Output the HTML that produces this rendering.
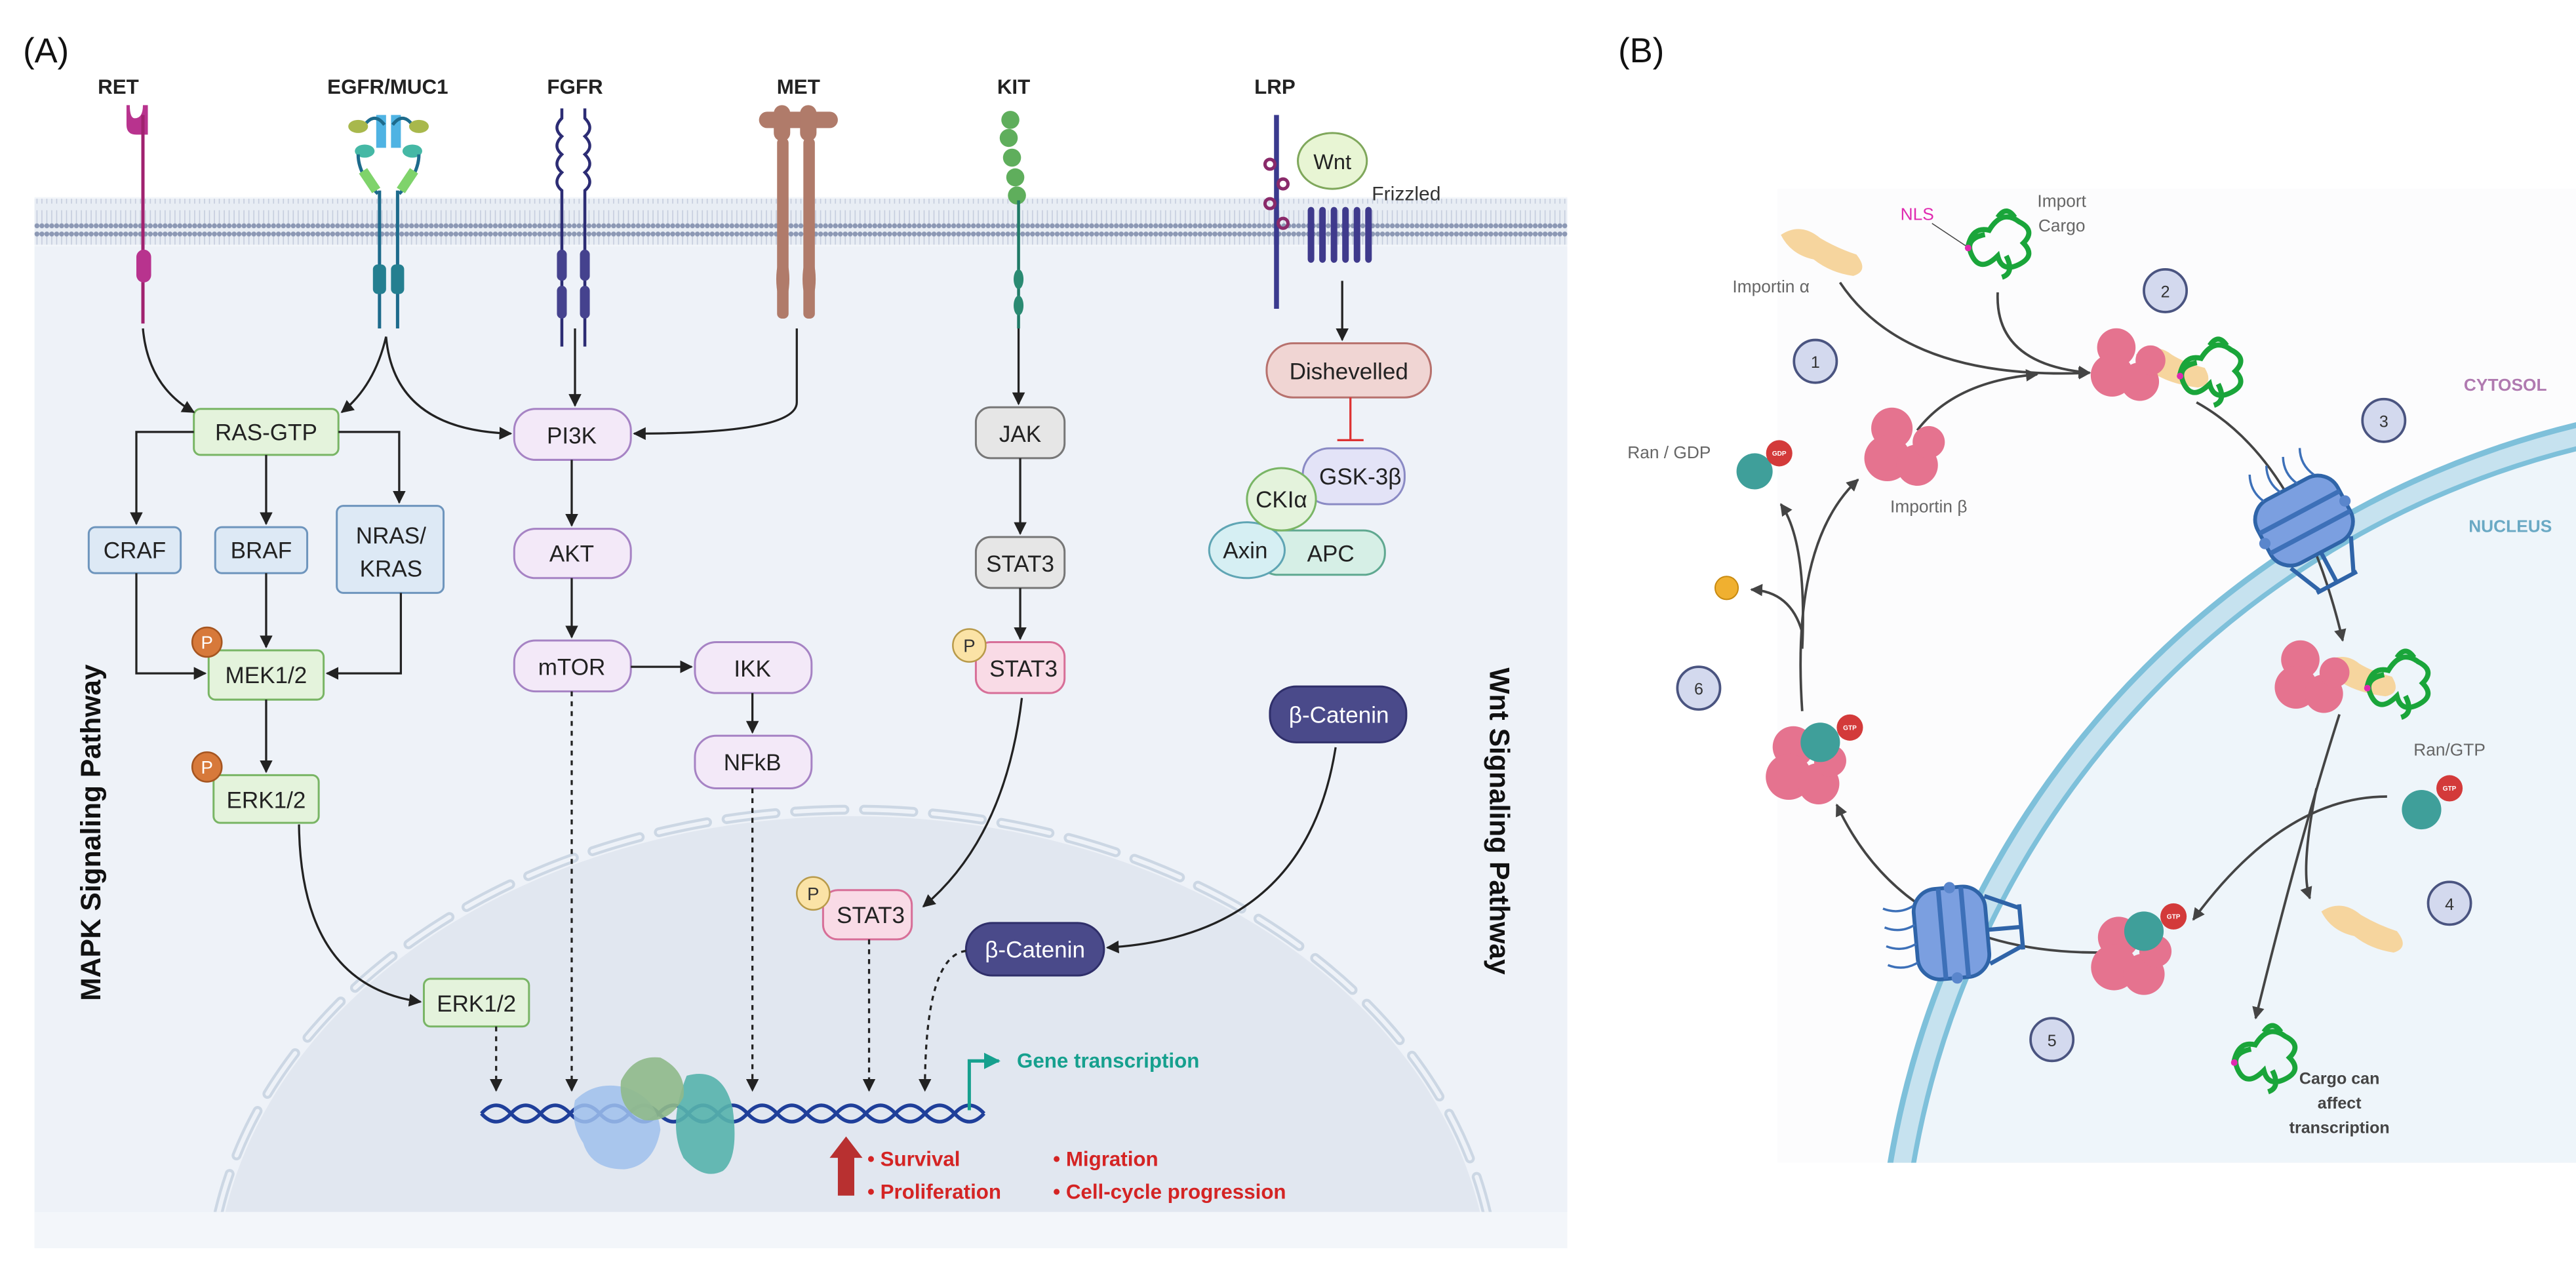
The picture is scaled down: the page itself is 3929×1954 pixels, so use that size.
<!DOCTYPE html>
<html><head><meta charset="utf-8"><style>
html,body{margin:0;padding:0;background:#fff;overflow:hidden;width:3929px;height:1954px;position:relative}
svg{display:block;position:absolute;left:0;top:0}
text{font-family:"Liberation Sans",sans-serif}
</style></head><body>
<svg width="3929" height="1954" viewBox="0 0 1568 780" preserveAspectRatio="none" xmlns="http://www.w3.org/2000/svg" overflow="hidden">
<defs>
<marker id="ar" viewBox="0 0 10 10" refX="9" refY="5" markerWidth="6" markerHeight="6" orient="auto"><path d="M0,0L10,5L0,10z" fill="#222"/></marker>
<marker id="ar2" viewBox="0 0 10 10" refX="9" refY="5" markerWidth="5" markerHeight="5" orient="auto"><path d="M0,0L10,5L0,10z" fill="#444"/></marker>
<marker id="art" viewBox="0 0 10 10" refX="9" refY="5" markerWidth="5" markerHeight="5" orient="auto"><path d="M0,0L10,5L0,10z" fill="#16a08e"/></marker>
<pattern id="lip" width="3" height="28" patternUnits="userSpaceOnUse"><rect width="3" height="28" fill="#e8edf4"/><circle cx="1.5" cy="2.5" r="1.5" fill="#8c98b4"/><circle cx="1.5" cy="25.5" r="1.5" fill="#8c98b4"/><line x1="1.5" y1="4" x2="1.5" y2="12" stroke="#c3cbdc" stroke-width="0.6"/><line x1="1.5" y1="16" x2="1.5" y2="24" stroke="#c3cbdc" stroke-width="0.6"/></pattern>
<clipPath id="cb"><rect x="1082" y="115" width="486" height="593"/></clipPath>
<clipPath id="ca"><rect x="22" y="150" width="932" height="588"/></clipPath>
<g id="pore"><rect x="-24" y="-20" width="48" height="38" rx="12" fill="#7b9fe0" stroke="#2f64a8" stroke-width="2"/><path d="M-24,-6 H24 M-24,6 H24" stroke="#3d70b8" stroke-width="2.5"/><circle cx="-24" cy="0" r="3" fill="#5a86cc"/><circle cx="24" cy="0" r="3" fill="#5a86cc"/><path d="M-18,18 L-10,36 M18,18 L10,36 M0,18 V36 M-12,36 H12" stroke="#2f64a8" stroke-width="2.2" fill="none"/><path d="M-14,-20 q-4,-8 0,-16 M-4,-20 q-4,-8 0,-16 M6,-20 q-4,-8 0,-16 M16,-20 q-4,-8 0,-16" stroke="#3d70b8" stroke-width="1.2" fill="none"/></g>
<g id="pinkb"><circle cx="-6" cy="-8" r="9" fill="#e5738f"/><circle cx="-8" cy="5" r="10" fill="#e5738f"/><circle cx="5" cy="8" r="9" fill="#e5738f"/><circle cx="10" cy="-2" r="7" fill="#e5738f"/></g>
<g id="cargo" fill="none" stroke="#1aa53a" stroke-width="2.4"><path d="M-14,2 q2,-10 10,-8 q6,-10 14,-4 q8,4 2,10 q6,6 -2,10 q-8,4 -10,-4 q-8,8 -12,0 q-4,-8 6,-10 M0,-12 q4,-6 8,0 M4,6 q4,8 -2,10"/></g>
</defs>

<!-- PANEL A -->
<text x="14" y="38" font-size="21" fill="#111">(A)</text>
<rect x="21" y="120" width="933" height="640" fill="#f3f6fa"/>
<rect x="21" y="150" width="933" height="610" fill="#eef2f8"/>
<rect x="21" y="121" width="933" height="28" fill="url(#lip)"/>
<g clip-path="url(#ca)">
<ellipse cx="519" cy="790" rx="388" ry="293" fill="#e1e7f0"/>
<ellipse cx="519" cy="790" rx="392" ry="297" fill="none" stroke="#ccd7e4" stroke-width="6" stroke-dasharray="30 12" stroke-linecap="round"/>
<ellipse cx="519" cy="790" rx="392" ry="297" fill="none" stroke="#eef2f8" stroke-width="2.5" stroke-dasharray="30 12" stroke-linecap="round"/>
</g>
<rect x="21" y="738" width="933" height="22" fill="#f3f6fa"/>

<g font-size="12.5" font-weight="bold" fill="#222" text-anchor="middle">
<text x="72" y="57">RET</text><text x="236" y="57">EGFR/MUC1</text><text x="350" y="57">FGFR</text><text x="486" y="57">MET</text><text x="617" y="57">KIT</text><text x="776" y="57">LRP</text>
</g>
<path d="M77,64 v12 q0,6 6,6 h7 v-18 h-3 q0,8 -5,8 q-3,0 -3,-8z" fill="#b8338e"/>
<line x1="87" y1="70" x2="87" y2="197" stroke="#a0226f" stroke-width="2"/>
<rect x="83" y="152" width="9" height="20" rx="4.5" fill="#b8338e"/>
<rect x="229" y="70" width="6" height="20" fill="#4fb3e3"/><rect x="238" y="70" width="6" height="20" fill="#4fb3e3"/>
<path d="M222,76 q6,-8 12,0 M239,76 q6,-8 12,0" stroke="#1d6b8c" stroke-width="2" fill="none"/>
<ellipse cx="218" cy="77" rx="6" ry="4" fill="#a8b84c"/><ellipse cx="255" cy="77" rx="6" ry="4" fill="#a8b84c"/>
<ellipse cx="222" cy="92" rx="6" ry="4" fill="#45b8a5"/><ellipse cx="251" cy="92" rx="6" ry="4" fill="#45b8a5"/>
<path d="M218,94 q0,12 12,24 M255,94 q0,12 -12,24" stroke="#1d6b8c" stroke-width="2" fill="none"/>
<path d="M221,104 l8,12 M252,104 l-8,12" stroke="#7fd36b" stroke-width="6"/>
<line x1="231" y1="116" x2="231" y2="200" stroke="#1d6b8c" stroke-width="2"/><line x1="242" y1="116" x2="242" y2="200" stroke="#1d6b8c" stroke-width="2"/>
<rect x="227" y="161" width="8" height="18" rx="3" fill="#247f90"/><rect x="238" y="161" width="8" height="18" rx="3" fill="#247f90"/>
<path d="M342,66 v6 q-6,6 0,11 q-6,6 0,11 q-6,6 0,11 q-6,6 0,11 v95 M356,66 v6 q6,6 0,11 q6,6 0,11 q6,6 0,11 q6,6 0,11 v95" stroke="#2c2c74" stroke-width="1.8" fill="none"/>
<rect x="339" y="152" width="6" height="19" rx="3" fill="#45428e"/><rect x="353" y="152" width="6" height="19" rx="3" fill="#45428e"/>
<rect x="339" y="174" width="6" height="20" rx="3" fill="#45428e"/><rect x="353" y="174" width="6" height="20" rx="3" fill="#45428e"/>
<g fill="#b07b6a"><rect x="462" y="68" width="48" height="10" rx="5"/><rect x="471" y="64" width="10" height="22" rx="5"/><rect x="487" y="64" width="10" height="22" rx="5"/>
<rect x="473" y="84" width="7" height="110" rx="3"/><rect x="489" y="84" width="7" height="110" rx="3"/>
<ellipse cx="476.5" cy="170" rx="4" ry="14"/><ellipse cx="492.5" cy="170" rx="4" ry="14"/></g>
<g fill="#5fae5c"><circle cx="615" cy="73" r="5.5"/><circle cx="614" cy="84" r="5.5"/><circle cx="616" cy="96" r="5.5"/><circle cx="618" cy="108" r="5.5"/><circle cx="619" cy="119" r="5.5"/></g>
<line x1="620" y1="122" x2="620" y2="200" stroke="#1f7a66" stroke-width="1.8"/>
<ellipse cx="620" cy="170" rx="3" ry="6" fill="#2a8a72"/><ellipse cx="620" cy="186" rx="3" ry="6" fill="#2a8a72"/>
<line x1="777" y1="70" x2="777" y2="188" stroke="#3a3a8e" stroke-width="3"/>
<g fill="none" stroke="#8a2a6a" stroke-width="2"><circle cx="773" cy="100" r="3"/><circle cx="781" cy="112" r="3"/><circle cx="773" cy="124" r="3"/><circle cx="781" cy="136" r="3"/></g>
<ellipse cx="811" cy="98" rx="21" ry="17" fill="#e8f5d4" stroke="#7fa75b" stroke-width="1.2"/>
<text x="811" y="103" font-size="13" text-anchor="middle" fill="#222">Wnt</text>
<text x="835" y="122" font-size="12" fill="#333">Frizzled</text>
<g fill="none" stroke="#3f3a8c" stroke-width="4" stroke-linecap="round"><path d="M798,128 v30 M805,128 v30 M812,128 v30 M819,128 v30 M826,128 v30 M833,128 v30"/></g>

<g font-size="14" fill="#222" text-anchor="middle" stroke-width="1.2">
<rect x="118" y="249" width="88" height="28" rx="4" fill="#e4f3dc" stroke="#79b565"/><text x="162" y="268">RAS-GTP</text>
<rect x="54" y="321" width="56" height="28" rx="4" fill="#dde9f5" stroke="#6e95bd"/><text x="82" y="340">CRAF</text>
<rect x="131" y="321" width="56" height="28" rx="4" fill="#dde9f5" stroke="#6e95bd"/><text x="159" y="340">BRAF</text>
<rect x="205" y="308" width="65" height="53" rx="4" fill="#dde9f5" stroke="#6e95bd"/><text x="238" y="331">NRAS/</text><text x="238" y="351">KRAS</text>
<rect x="127" y="396" width="70" height="30" rx="4" fill="#e4f3dc" stroke="#79b565"/><text x="162" y="416">MEK1/2</text>
<rect x="130" y="472" width="64" height="29" rx="4" fill="#e4f3dc" stroke="#79b565"/><text x="162" y="492">ERK1/2</text>
<rect x="258" y="596" width="64" height="29" rx="4" fill="#e4f3dc" stroke="#79b565"/><text x="290" y="616">ERK1/2</text>
<rect x="313" y="249" width="71" height="31" rx="13" fill="#f3e9f8" stroke="#a683c4"/><text x="348" y="270">PI3K</text>
<rect x="313" y="322" width="71" height="30" rx="13" fill="#f3e9f8" stroke="#a683c4"/><text x="348" y="342">AKT</text>
<rect x="313" y="390" width="71" height="31" rx="13" fill="#f3e9f8" stroke="#a683c4"/><text x="348" y="411">mTOR</text>
<rect x="423" y="391" width="71" height="31" rx="13" fill="#f3e9f8" stroke="#a683c4"/><text x="458" y="412">IKK</text>
<rect x="423" y="448" width="71" height="32" rx="13" fill="#f3e9f8" stroke="#a683c4"/><text x="458" y="469">NFkB</text>
<rect x="594" y="248" width="54" height="31" rx="9" fill="#e6e6e6" stroke="#777"/><text x="621" y="269">JAK</text>
<rect x="594" y="327" width="54" height="31" rx="9" fill="#e6e6e6" stroke="#777"/><text x="621" y="348">STAT3</text>
<rect x="594" y="391" width="54" height="31" rx="9" fill="#f9dbe6" stroke="#d76f98"/><text x="623" y="412">STAT3</text>
<rect x="501" y="542" width="54" height="30" rx="9" fill="#f9dbe6" stroke="#d76f98"/><text x="530" y="562">STAT3</text>
<rect x="771" y="209" width="100" height="33" rx="16" fill="#f0d5d3" stroke="#b7716d"/><text x="821" y="231">Dishevelled</text>
<rect x="793" y="273" width="62" height="34" rx="16" fill="#e3e3f7" stroke="#8a8ac4"/><text x="828" y="295">GSK-3β</text>
<rect x="765" y="323" width="78" height="27" rx="13" fill="#d6efe6" stroke="#5fa890"/><text x="810" y="342">APC</text>
<ellipse cx="759" cy="335" rx="23" ry="17" fill="#d6eff3" stroke="#5fa5b4"/><text x="758" y="340">Axin</text>
<ellipse cx="780" cy="304" rx="21" ry="19" fill="#e4f3dc" stroke="#79b565"/><text x="780" y="309">CKIα</text>
<rect x="773" y="418" width="83" height="34" rx="16" fill="#4a4a8a" stroke="#2f2f6a"/><text x="815" y="440" fill="#fff">β-Catenin</text>
<rect x="588" y="562" width="84" height="32" rx="16" fill="#4a4a8a" stroke="#2f2f6a"/><text x="630" y="583" fill="#fff">β-Catenin</text>
</g>
<g font-size="11" text-anchor="middle">
<circle cx="126" cy="391" r="9" fill="#d7793a" stroke="#a55520"/><text x="126" y="395" fill="#fff">P</text>
<circle cx="126" cy="467" r="9" fill="#d7793a" stroke="#a55520"/><text x="126" y="471" fill="#fff">P</text>
<circle cx="590" cy="393" r="10" fill="#fbe3a6" stroke="#b89a4a"/><text x="590" y="397" fill="#333">P</text>
<circle cx="495" cy="544" r="10" fill="#fbe3a6" stroke="#b89a4a"/><text x="495" y="548" fill="#333">P</text>
</g>

<g fill="none" stroke="#222" stroke-width="1.3" marker-end="url(#ar)">
<path d="M87,200 Q90,235 118,251"/>
<path d="M235,205 Q228,235 208,251"/>
<path d="M235,205 Q240,262 311,264"/>
<path d="M350,200 V247"/>
<path d="M485,200 V245 Q485,264 386,264"/>
<path d="M620,200 V246"/>
<path d="M817,171 V207"/>
<path d="M118,263 H83 V319"/>
<path d="M162,277 V319"/>
<path d="M206,263 H243 V306"/>
<path d="M83,349 V410 H125"/>
<path d="M162,349 V394"/>
<path d="M244,361 V410 H199"/>
<path d="M162,426 V470"/>
<path d="M182,502 Q183,600 256,610"/>
<path d="M348,280 V320"/>
<path d="M348,352 V388"/>
<path d="M384,406 H421"/>
<path d="M458,422 V446"/>
<path d="M621,279 V325"/>
<path d="M621,358 V389"/>
<path d="M622,425 Q612,510 562,552"/>
<path d="M813,455 Q795,570 674,577"/>
</g>
<path d="M822,242 V268 M814,268 H830" stroke="#d33" stroke-width="1.3" fill="none"/>
<g fill="none" stroke="#222" stroke-width="1.3" stroke-dasharray="3 3" marker-end="url(#ar)">
<path d="M302,625 V664"/><path d="M348,421 V664"/><path d="M458,480 V664"/><path d="M529,572 V664"/><path d="M588,579 Q563,582 563,664"/>
</g>

<g fill="none" stroke="#1f3f9a" stroke-width="2.2">
<path d="M293,678 q9,-10 18,0 t18,0 t18,0 t18,0 t18,0 t18,0 t18,0 t18,0 t18,0 t18,0 t18,0 t18,0 t18,0 t18,0 t18,0 t18,0 t18,0"/>
<path d="M293,678 q9,10 18,0 t18,0 t18,0 t18,0 t18,0 t18,0 t18,0 t18,0 t18,0 t18,0 t18,0 t18,0 t18,0 t18,0 t18,0 t18,0 t18,0"/>
</g>
<path d="M418,655 q22,-6 28,20 q4,30 -6,38 q-12,6 -24,-8 q-10,-20 2,-50z" fill="#57b2ac" opacity="0.9"/>
<path d="M350,670 q12,-12 30,-8 q20,6 22,26 q-4,22 -22,24 q-20,0 -25,-16 q-8,-12 -5,-26z" fill="#9fc0ec" opacity="0.85"/>
<path d="M378,658 q8,-16 24,-14 q16,8 14,24 q-8,16 -24,14 q-16,-6 -14,-24z" fill="#8fb98a" opacity="0.9"/>
<path d="M590,676 V646 H608" stroke="#16a08e" stroke-width="2" fill="none" marker-end="url(#art)"/>
<text x="619" y="650" font-size="12.5" font-weight="bold" fill="#16a08e">Gene transcription</text>
<path d="M510,728 V705 h-5 l10,-13 l10,13 h-5 V728z" fill="#b83030"/>
<g font-size="12.5" font-weight="bold" fill="#d42424">
<text x="528" y="710">• Survival</text><text x="528" y="730">• Proliferation</text>
<text x="641" y="710">• Migration</text><text x="641" y="730">• Cell-cycle progression</text>
</g>
<text transform="translate(61,507) rotate(-90)" font-size="17" font-weight="bold" fill="#111" text-anchor="middle">MAPK Signaling Pathway</text>
<text transform="translate(907,500) rotate(90)" font-size="17" font-weight="bold" fill="#111" text-anchor="middle">Wnt Signaling Pathway</text>

<!-- PANEL B -->
<text x="985" y="38" font-size="21" fill="#111">(B)</text>
<rect x="1082" y="115" width="486" height="593" fill="#fcfcfd"/>
<g clip-path="url(#cb)">
<circle cx="1700" cy="800" r="550" fill="#eef5fa"/>
<circle cx="1700" cy="800" r="550" fill="none" stroke="#c6e2ef" stroke-width="12"/>
<circle cx="1700" cy="800" r="557" fill="none" stroke="#7ec0da" stroke-width="3.5"/>
<circle cx="1700" cy="800" r="543" fill="none" stroke="#7ec0da" stroke-width="3"/>
</g>
<g font-size="10.5" fill="#666">
<text x="1078" y="178" text-anchor="middle">Importin α</text>
<text x="1167" y="134" fill="#e02ab0" text-anchor="middle">NLS</text>
<line x1="1176" y1="136" x2="1197" y2="150" stroke="#444" stroke-width="0.6"/>
<text x="1255" y="126" text-anchor="middle">Import</text><text x="1255" y="141" text-anchor="middle">Cargo</text>
<text x="1016" y="279" text-anchor="middle">Ran / GDP</text>
<text x="1174" y="312" text-anchor="middle">Importin β</text>
<text x="1491" y="460" text-anchor="middle">Ran/GTP</text>
<text x="1525" y="238" font-weight="bold" fill="#b07ab0" text-anchor="middle">CYTOSOL</text>
<text x="1528" y="324" font-weight="bold" fill="#6aa9c4" text-anchor="middle">NUCLEUS</text>
</g>
<g font-size="10" font-weight="bold" fill="#444" text-anchor="middle"><text x="1424" y="660">Cargo can</text><text x="1424" y="675">affect</text><text x="1424" y="690">transcription</text></g>
<g font-size="10" text-anchor="middle" fill="#333">
<circle cx="1105" cy="220" r="13" fill="#d3d9ee" stroke="#4a5480" stroke-width="1.5"/><text x="1105" y="224">1</text>
<circle cx="1318" cy="177" r="13" fill="#d3d9ee" stroke="#4a5480" stroke-width="1.5"/><text x="1318" y="181">2</text>
<circle cx="1451" cy="256" r="13" fill="#d3d9ee" stroke="#4a5480" stroke-width="1.5"/><text x="1451" y="260">3</text>
<circle cx="1491" cy="550" r="13" fill="#d3d9ee" stroke="#4a5480" stroke-width="1.5"/><text x="1491" y="554">4</text>
<circle cx="1249" cy="633" r="13" fill="#d3d9ee" stroke="#4a5480" stroke-width="1.5"/><text x="1249" y="637">5</text>
<circle cx="1034" cy="419" r="13" fill="#d3d9ee" stroke="#4a5480" stroke-width="1.5"/><text x="1034" y="423">6</text>
</g>
<g fill="none" stroke="#444" stroke-width="1.5" marker-end="url(#ar2)">
<path d="M1120,172 Q1160,232 1272,227"/>
<path d="M1216,178 Q1214,222 1272,227"/>
<path d="M1167,262 Q1190,232 1240,228"/>
<path d="M1337,245 Q1400,280 1426,390"/>
<path d="M1424,435 Q1400,510 1373,620"/>
<path d="M1453,485 Q1390,485 1335,560"/>
<path d="M1410,480 Q1400,530 1406,547"/>
<path d="M1277,580 Q1160,580 1118,490"/>
<path d="M1097,433 Q1090,330 1131,292"/>
<path d="M1097,395 Q1100,330 1084,307"/>
<path d="M1097,385 Q1090,360 1066,359"/>
</g>
<path d="M1084,143 q12,-8 24,2 q10,6 22,10 q8,10 -2,13 q-14,-2 -24,-10 q-14,-3 -20,-15z" fill="#f6d59e"/>
<path d="M1413,555 q12,-8 24,2 q10,6 22,10 q8,10 -2,13 q-14,-2 -24,-10 q-14,-3 -20,-15z" fill="#f6d59e"/>
<path d="M1300,216 q12,-8 22,0 q8,5 20,8 q6,10 -4,12 q-16,-2 -26,-8z" fill="#f6d59e"/>
<path d="M1414,404 q12,-8 22,0 q8,5 20,8 q6,10 -4,12 q-16,-2 -26,-8z" fill="#f6d59e"/>
<use href="#pinkb" transform="translate(1296,222) scale(1.3)"/>
<use href="#pinkb" transform="translate(1408,412) scale(1.3)"/>
<use href="#pinkb" transform="translate(1160,272) scale(1.4)"/>
<use href="#pinkb" transform="translate(1100,466) scale(1.4)"/>
<use href="#pinkb" transform="translate(1298,582) scale(1.4)"/>
<use href="#cargo" transform="translate(1216,148) scale(1.3)"/>
<use href="#cargo" transform="translate(1345,226) scale(1.3)"/>
<use href="#cargo" transform="translate(1459,416) scale(1.3)"/>
<use href="#cargo" transform="translate(1378,644) scale(1.3)"/>
<g fill="#e02ab0"><circle cx="1198" cy="151" r="2"/><circle cx="1327" cy="229" r="2"/><circle cx="1441" cy="419" r="2"/><circle cx="1360" cy="647" r="2"/></g>
<g fill="#3f9f9a"><circle cx="1068" cy="287" r="11"/><circle cx="1108" cy="452" r="12"/><circle cx="1474" cy="493" r="12"/><circle cx="1305" cy="567" r="12"/></g>
<g fill="#d33a3a"><circle cx="1083" cy="276" r="8"/><circle cx="1126" cy="443" r="8"/><circle cx="1491" cy="480" r="8"/><circle cx="1323" cy="558" r="8"/></g>
<g font-size="4" fill="#fff" text-anchor="middle" font-weight="bold"><text x="1083" y="277.5">GDP</text><text x="1126" y="444.5">GTP</text><text x="1491" y="481.5">GTP</text><text x="1323" y="559.5">GTP</text></g>
<circle cx="1051" cy="358" r="7" fill="#f0b030" stroke="#c88a10" stroke-width="0.8"/>
<use href="#pore" transform="translate(1403,318) rotate(-28) scale(1.15)"/>
<use href="#pore" transform="translate(1189,568) rotate(-95) scale(1.15)"/>
</svg>
</body></html>
